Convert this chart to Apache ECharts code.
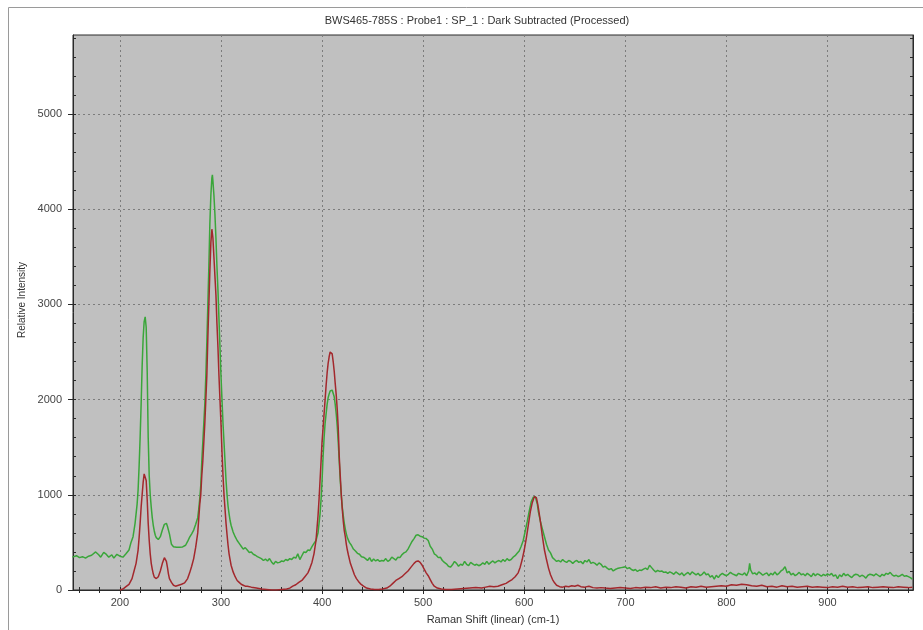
<!DOCTYPE html>
<html>
<head>
<meta charset="utf-8">
<script src="https://cdn.jsdelivr.net/npm/echarts@6/dist/echarts.min.js"></script>
<style>
html,body{margin:0;padding:0;background:#fff;}
#chart{width:923px;height:630px;}
</style>
</head>
<body>
<div id="chart"></div>
<script>
// ---- Data (Raman shift cm-1, relative intensity) ----
const greenData = [
[153,345],[157,360],[160,340],[163,350],[166,335],[169,355],[172,365],[176,400],[179,370],[181,345],[184,395],[186,380],[189,345],[192,370],[194,335],[197,375],[200,355],[203,345],[206,380],[209,420],[211,500],[213,560],[215,700],[217,900],[218,1050],[219,1300],[220,1600],[221,1950],[222,2350],[223,2650],[224,2820],[225,2870],[226,2760],[227,2300],[228,1600],[229,1200],[230,1000],[231,870],[232,760],[233,680],[234,620],[235,575],[236,550],[238,530],[240,560],[242,630],[244,690],[246,700],[247,670],[249,590],[251,480],[253,455],[256,448],[259,450],[262,452],[265,470],[267,510],[269,555],[271,590],[273,630],[275,690],[277,760],[278,850],[279,960],[280,1100],[281,1350],[282,1550],[283,1750],[284,1950],[285,2250],[286,2600],[287,3000],[288,3400],[289,3850],[290,4150],[291,4330],[291.5,4360],[292,4300],[293,4150],[294,3950],[295,3700],[296,3400],[297,3150],[298,2850],[299,2550],[300,2250],[301,2000],[302,1750],[303,1550],[304,1350],[305,1150],[306,1000],[307,880],[308,800],[309,730],[310,680],[312,610],[314,560],[316,520],[318,490],[320,460],[322,430],[324,445],[326,420],[328,395],[330,400],[332,375],[334,365],[336,350],[338,340],[340,330],[342,310],[344,325],[346,305],[348,330],[350,295],[352,270],[354,300],[356,285],[358,290],[360,305],[362,300],[364,320],[366,310],[368,330],[370,320],[372,345],[374,335],[376,380],[378,320],[380,360],[382,400],[384,395],[386,420],[388,415],[390,455],[392,490],[394,520],[396,600],[397,700],[398,800],[399,950],[400,1150],[401,1400],[402,1600],[403,1750],[404,1850],[405,1950],[406,2020],[407,2060],[408,2090],[409,2100],[410,2100],[411,2080],[412,2030],[413,1950],[414,1850],[415,1720],[416,1550],[417,1350],[418,1150],[419,1000],[420,870],[421,780],[422,700],[423,640],[424,590],[425,550],[427,500],[429,470],[431,430],[433,410],[435,385],[437,375],[439,350],[441,345],[443,330],[445,310],[447,340],[449,300],[451,325],[453,305],[455,320],[457,300],[459,310],[461,305],[463,330],[465,300],[467,315],[469,345],[471,330],[473,315],[475,345],[477,340],[479,370],[481,390],[483,400],[485,430],[487,470],[489,510],[491,540],[493,575],[495,580],[497,565],[499,560],[501,545],[503,540],[505,520],[507,460],[509,430],[511,380],[513,365],[515,340],[517,345],[519,310],[521,290],[523,275],[525,250],[527,240],[529,265],[531,300],[533,280],[535,250],[537,270],[539,260],[541,300],[543,270],[545,255],[547,290],[549,275],[551,260],[553,270],[555,255],[557,265],[559,285],[561,270],[563,300],[565,270],[567,290],[569,305],[571,285],[573,300],[575,310],[577,295],[579,320],[581,300],[583,330],[585,310],[587,320],[589,345],[591,360],[593,385],[595,410],[597,460],[599,520],[601,620],[603,720],[605,830],[607,930],[609,975],[611,980],[612,960],[613,900],[614,820],[616,720],[618,640],[620,560],[622,480],[624,420],[626,390],[628,340],[630,320],[632,300],[634,310],[636,295],[638,320],[640,300],[642,290],[644,310],[646,300],[648,280],[650,300],[652,310],[654,290],[656,300],[658,275],[660,310],[662,295],[664,320],[666,280],[668,290],[670,280],[672,260],[674,285],[676,270],[678,240],[680,250],[682,230],[684,215],[686,225],[688,200],[690,215],[692,225],[694,230],[696,235],[698,240],[700,245],[702,225],[704,235],[706,215],[708,205],[710,215],[712,195],[714,210],[716,205],[718,220],[720,230],[722,215],[724,260],[725,270],[726,235],[728,210],[730,190],[732,205],[734,195],[736,200],[738,185],[740,190],[742,175],[744,190],[746,180],[748,165],[750,190],[752,175],[754,160],[756,180],[758,150],[760,170],[762,185],[764,160],[766,190],[768,175],[770,160],[772,175],[774,150],[776,165],[778,190],[780,160],[782,170],[784,135],[786,150],[788,115],[790,155],[792,130],[794,160],[796,175],[798,160],[800,150],[802,165],[804,185],[806,170],[808,160],[810,150],[812,175],[814,165],[816,160],[818,180],[820,150],[822,200],[823,280],[824,210],[826,170],[828,180],[830,160],[832,190],[834,175],[836,155],[838,170],[840,180],[842,150],[844,175],[846,160],[848,190],[850,160],[852,175],[854,200],[856,215],[858,245],[859,215],[860,180],[862,195],[864,160],[866,175],[868,150],[870,165],[872,185],[874,160],[876,170],[878,150],[880,175],[882,160],[884,140],[886,175],[888,150],[890,170],[892,160],[894,145],[896,165],[898,150],[900,170],[902,155],[904,175],[906,145],[908,160],[910,120],[912,160],[914,140],[916,175],[918,150],[920,165],[922,145],[924,130],[926,155],[928,165],[930,160],[932,140],[934,155],[936,145],[938,125],[940,155],[942,165],[944,160],[946,150],[948,170],[950,155],[952,140],[954,165],[956,150],[958,175],[960,165],[962,185],[964,160],[966,145],[968,155],[970,140],[972,150],[974,165],[976,145],[978,150],[980,140],[982,130],[984,115]
];
const redData = [
[200,0],[203,10],[206,35],[209,60],[212,120],[214,200],[216,280],[218,420],[219,550],[220,700],[221,870],[222,1000],[223,1130],[224,1220],[225,1240],[226,1150],[227,950],[228,700],[229,520],[230,380],[231,280],[232,220],[233,170],[234,135],[236,120],[238,140],[240,200],[242,280],[244,340],[245,340],[246,300],[247,240],[248,170],[249,120],[251,80],[253,50],[255,40],[258,50],[261,60],[264,75],[267,120],[269,180],[271,250],[273,330],[275,450],[277,600],[278,750],[279,900],[280,1000],[281,1200],[282,1350],[283,1550],[284,1750],[285,2000],[286,2250],[287,2650],[288,3000],[289,3350],[290,3650],[291,3790],[292,3700],[293,3500],[294,3300],[295,3100],[296,2800],[297,2550],[298,2250],[299,2000],[300,1750],[301,1450],[302,1200],[303,1000],[304,850],[305,700],[306,580],[307,470],[308,380],[309,320],[310,260],[312,190],[314,140],[316,100],[318,80],[320,60],[322,50],[324,40],[326,40],[330,30],[335,20],[340,10],[345,5],[350,0],[355,0],[360,5],[365,10],[368,20],[371,40],[374,55],[377,80],[380,100],[383,140],[386,180],[388,230],[390,290],[392,380],[394,520],[395,650],[396,780],[397,950],[398,1150],[399,1350],[400,1560],[401,1700],[402,1850],[403,2000],[404,2150],[405,2280],[406,2380],[407,2450],[408,2500],[409,2510],[410,2480],[411,2400],[412,2300],[413,2170],[414,2050],[415,1900],[416,1700],[417,1400],[418,1200],[419,1000],[420,850],[421,720],[422,620],[423,560],[424,480],[425,420],[426,370],[428,280],[430,220],[432,160],[434,120],[436,90],[438,65],[441,40],[444,20],[448,10],[452,5],[456,5],[460,10],[464,20],[467,40],[470,70],[473,100],[476,120],[479,140],[482,170],[485,200],[488,240],[491,280],[493,300],[495,305],[497,290],[499,260],[501,220],[503,180],[505,150],[507,110],[509,70],[511,40],[514,20],[518,10],[522,5],[528,5],[534,10],[540,15],[546,20],[552,25],[558,20],[562,30],[566,40],[570,35],[574,40],[578,55],[582,70],[585,90],[588,110],[591,140],[594,180],[596,240],[598,320],[600,420],[602,540],[604,680],[606,820],[608,920],[610,980],[611,990],[612,970],[613,920],[614,860],[616,720],[618,560],[620,420],[622,320],[624,230],[626,160],[628,110],[630,75],[632,50],[635,35],[638,30],[641,40],[644,35],[647,45],[650,40],[653,50],[656,35],[660,30],[664,40],[668,25],[672,20],[676,25],[680,20],[685,15],[690,20],[695,25],[700,20],[705,15],[710,25],[715,20],[720,30],[725,25],[730,35],[735,20],[740,30],[745,25],[750,35],[755,30],[760,20],[765,35],[770,30],[775,40],[780,30],[785,35],[790,40],[795,45],[800,40],[805,55],[810,50],[815,60],[820,55],[825,45],[830,40],[835,50],[840,35],[845,40],[850,30],[855,45],[860,35],[865,40],[870,30],[875,35],[880,40],[885,30],[890,35],[895,30],[900,25],[905,35],[910,30],[915,40],[920,30],[925,35],[930,25],[935,30],[940,35],[945,25],[950,30],[955,35],[960,30],[965,25],[970,35],[975,30],[980,25],[984,30]
];
const xTickLabels = [200, 300, 400, 500, 600, 700, 800, 900];
const yTickLabels = [0, 1000, 2000, 3000, 4000, 5000];
const xRange = [153.6, 984.6];
const yRange = [0, 5830];
const titleText = 'BWS465-785S : Probe1 : SP_1 : Dark Subtracted (Processed)';
const xName = 'Raman Shift (linear) (cm-1)';
const yName = 'Relative Intensity';

// minor tick positions (every 20 on x, every 200 on y)
const xMinor = [];
for (let v = 160; v <= 980; v += 20) xMinor.push(v);
const yMinor = [];
for (let v = 0; v <= 5800; v += 200) yMinor.push(v);

const FONT = '"Liberation Sans", Arial, sans-serif';
const AX = '#2a2a2a';
const plain = v => String(Math.round(v));

const chart = echarts.init(document.getElementById('chart'), null, {renderer: 'canvas'});
chart.setOption({
  animation: false,
  backgroundColor: '#ffffff',
  grid: {left: 73, right: 10, top: 35, bottom: 40, show: true, backgroundColor: '#c0c0c0', borderColor: AX, borderWidth: 1},
  graphic: [
    {type: 'rect', silent: true, z: -10, shape: {x: 8.5, y: 7.5, width: 1000, height: 1000}, style: {fill: 'none', stroke: '#9a9a9a', lineWidth: 1}},
    {type: 'text', x: 477, y: 21, style: {text: titleText, font: '11px ' + FONT, fill: '#333', textAlign: 'center', textVerticalAlign: 'middle'}},
    {type: 'text', x: 493, y: 620, style: {text: xName, font: '11px ' + FONT, fill: '#333', textAlign: 'center', textVerticalAlign: 'middle'}},
    {type: 'text', x: 22, y: 300, rotation: Math.PI / 2, style: {text: yName, font: '10px ' + FONT, fill: '#333', textAlign: 'center', textVerticalAlign: 'middle'}}
  ],
  xAxis: [
    {type: 'value', min: xRange[0], max: xRange[1], position: 'bottom',
     axisLine: {show: true, onZero: false, lineStyle: {color: AX, width: 1}},
     axisTick: {show: true, customValues: xTickLabels, length: 4, lineStyle: {color: AX}},
     axisLabel: {customValues: xTickLabels, formatter: plain, fontSize: 11, fontFamily: FONT, color: '#444', margin: 7},
     splitLine: {show: true, lineStyle: {color: '#7c7c7c', type: [2, 3], width: 1}}},
    {type: 'value', min: xRange[0], max: xRange[1], position: 'bottom',
     axisLine: {show: false}, axisTick: {show: true, inside: true, customValues: xMinor, length: 3, lineStyle: {color: AX}},
     axisLabel: {show: false}, splitLine: {show: false}},
    {type: 'value', min: xRange[0], max: xRange[1], position: 'top',
     axisLine: {show: true, lineStyle: {color: AX}}, axisTick: {show: true, inside: true, customValues: xMinor, length: 3, lineStyle: {color: AX}},
     axisLabel: {show: false}, splitLine: {show: false}}
  ],
  yAxis: [
    {type: 'value', min: yRange[0], max: yRange[1], position: 'left',
     axisLine: {show: true, onZero: false, lineStyle: {color: AX, width: 1}},
     axisTick: {show: true, customValues: yTickLabels, length: 5, lineStyle: {color: AX}},
     axisLabel: {customValues: yTickLabels, formatter: plain, fontSize: 11, fontFamily: FONT, color: '#444', margin: 11},
     splitLine: {show: true, lineStyle: {color: '#7c7c7c', type: [2, 3], width: 1}}},
    {type: 'value', min: yRange[0], max: yRange[1], position: 'left',
     axisLine: {show: false}, axisTick: {show: true, inside: true, customValues: yMinor, length: 3, lineStyle: {color: AX}},
     axisLabel: {show: false}, splitLine: {show: false}},
    {type: 'value', min: yRange[0], max: yRange[1], position: 'right',
     axisLine: {show: true, lineStyle: {color: AX}}, axisTick: {show: true, inside: true, customValues: yMinor, length: 3, lineStyle: {color: AX}},
     axisLabel: {show: false}, splitLine: {show: false}}
  ],
  series: [
    {type: 'line', name: 'green', xAxisIndex: 0, yAxisIndex: 0, data: greenData, showSymbol: false, symbol: 'none',
     lineStyle: {color: '#3aa63a', width: 1.5}, z: 2},
    {type: 'line', name: 'red', xAxisIndex: 0, yAxisIndex: 0, data: redData, showSymbol: false, symbol: 'none',
     lineStyle: {color: '#a3282d', width: 1.5}, z: 3}
  ]
});
</script>
</body>
</html>
